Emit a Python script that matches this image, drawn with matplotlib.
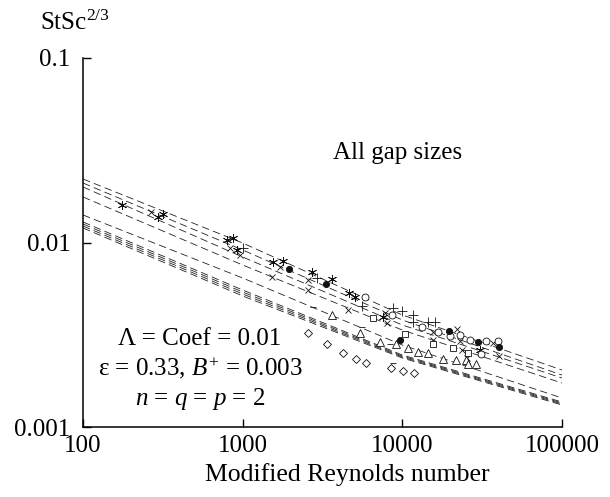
import matplotlib
matplotlib.use('Agg')
import matplotlib.pyplot as plt
from matplotlib.ticker import FixedLocator, FixedFormatter, NullLocator

plt.rcParams['font.family'] = ['Liberation Serif', 'DejaVu Serif']
plt.rcParams['mathtext.fontset'] = 'custom'
plt.rcParams['mathtext.rm'] = 'Liberation Serif'
plt.rcParams['mathtext.it'] = 'Liberation Serif:italic'

# correlation curves, sampled at Re = 100, 1000, 10000, 100000
curve_re = [100, 1000, 10000, 100000]
curves = [
    [0.02209, 0.009938, 0.004046, 0.002037],
    [0.02101, 0.009107, 0.003801, 0.001913],
    [0.01999, 0.008345, 0.003571, 0.001843],
    [0.01765, 0.007551, 0.003354, 0.001731],
    [0.01410, 0.006421, 0.002781, 0.001436],
    [0.01292, 0.005527, 0.002456, 0.001366],
    [0.01260, 0.005391, 0.002425, 0.001349],
    [0.01229, 0.005258, 0.002395, 0.001333],
    [0.01199, 0.005129, 0.002366, 0.001316],
]

# experimental points
star_re = [176, 295, 317, 798, 870, 922, 1549, 1788, 2718, 3627, 4634, 5051, 7568, 30646]
star_st = [0.0160, 0.01375, 0.01427, 0.0103, 0.01058, 0.00911, 0.00784, 0.00794,
           0.00692, 0.00634, 0.00532, 0.00507, 0.00395, 0.00261]

x_re = [267, 833, 962, 1526, 1713, 2566, 2566, 4567, 7789, 8016, 15560, 15560,
        21995, 22969, 23642, 25406, 36976, 40305]
x_st = [0.01463, 0.00934, 0.00856, 0.00650, 0.00737, 0.00626, 0.00553, 0.00431,
        0.00415, 0.00366, 0.00327, 0.00296, 0.00340, 0.00292, 0.00261, 0.00237,
        0.00285, 0.00243]

plus_re = [1005, 2921, 5588, 8741, 9952, 11664, 11664, 14478, 16015]
plus_st = [0.00934, 0.00642, 0.00453, 0.00442, 0.00425, 0.00405, 0.00371, 0.00371, 0.00371]

circ_re = [5836, 8617, 13276, 16722, 19886, 22969, 26532, 33419, 39724, 31093]
circ_st = [0.00507, 0.00405, 0.00348, 0.00327, 0.00311, 0.00315, 0.00296, 0.00292,
           0.00292, 0.00249]

dot_re = [1951, 3326, 9670, 19597, 29775, 40305]
dot_st = [0.00718, 0.00596, 0.00296, 0.00331, 0.00289, 0.00271]

sq_re = [6551, 10392, 15560, 20764, 25778]
sq_st = [0.00390, 0.00319, 0.00282, 0.00268, 0.00252]

tri_re = [3627, 5430, 7246, 9128, 10852, 12534, 14478, 17977, 21684, 25039, 25778, 28925]
tri_st = [0.00405, 0.00323, 0.00289, 0.00282, 0.00268, 0.00255, 0.00252, 0.00234,
          0.00231, 0.00231, 0.00220, 0.00220]

dia_re = [2566, 3375, 4250, 5125, 5921, 8492, 10096, 11832]
dia_st = [0.00323, 0.00282, 0.00252, 0.00234, 0.00222, 0.00209, 0.00201, 0.00196]

dash_re = [2757, 5588, 8369, 8741]
dash_st = [0.00447, 0.00348, 0.00282, 0.00222]

x_ticks = [100, 1000, 10000, 100000]
x_labels = ['100', '1000', '10000', '100000']
y_ticks = [0.001, 0.01, 0.1]
y_labels = ['0.001', '0.01', '0.1']

fig = plt.figure(figsize=(6.10, 4.97), dpi=100)
ax = fig.add_axes([83 / 610, 70 / 497, 479 / 610, 369 / 497])
ax.set_xscale('log')
ax.set_yscale('log')
ax.set_xlim(100, 100000)
ax.set_ylim(0.001, 0.1)

for c in curves:
    ax.plot(curve_re, c, color='#222222', linewidth=0.6, dashes=(9, 5))

mk = dict(linestyle='none', color='#111111', markeredgewidth=0.6)
ax.plot(star_re, star_st, marker=(6, 2, 0), markersize=6.5, **mk)
ax.plot(x_re, x_st, marker='x', markersize=5, **mk)
ax.plot(plus_re, plus_st, marker='+', markersize=6.5, **mk)
ax.plot(circ_re, circ_st, marker='o', markersize=5, markerfacecolor='white', **mk)
ax.plot(dot_re, dot_st, marker='o', markersize=4.5, **mk)
ax.plot(sq_re, sq_st, marker='s', markersize=5, markerfacecolor='white', **mk)
ax.plot(tri_re, tri_st, marker='^', markersize=5.5, markerfacecolor='white', **mk)
ax.plot(dia_re, dia_st, marker='D', markersize=4, markerfacecolor='white', **mk)
ax.plot(dash_re, dash_st, marker='_', markersize=4.5, **mk)

ax.spines['top'].set_visible(False)
ax.spines['right'].set_visible(False)
ax.spines['left'].set_linewidth(1.1)
ax.spines['bottom'].set_linewidth(1.1)

ax.xaxis.set_major_locator(FixedLocator(x_ticks))
ax.xaxis.set_major_formatter(FixedFormatter(x_labels))
ax.yaxis.set_major_locator(FixedLocator(y_ticks))
ax.yaxis.set_major_formatter(FixedFormatter(y_labels))
ax.xaxis.set_minor_locator(NullLocator())
ax.yaxis.set_minor_locator(NullLocator())
ax.tick_params(axis='both', which='major', direction='in', length=6, width=1.0,
               labelsize=18)
ax.tick_params(axis='x', pad=6)
ax.tick_params(axis='y', pad=9)

fig.text(40 / 610, 1 - 23 / 497, 'StSc$^{2/3}$', fontsize=18, va='center', ha='left')
fig.text(347 / 610, 1 - 475 / 497, 'Modified Reynolds number', fontsize=18.5,
         va='center', ha='center')
fig.text(333 / 610, 1 - 153 / 497, 'All gap sizes', fontsize=18, va='center', ha='left')
fig.text(200 / 610, 1 - 339 / 497, 'Λ = Coef = 0.01', fontsize=18, va='center', ha='center')
fig.text(200 / 610, 1 - 368 / 497, 'ε = 0.33, $B^{+}$ = 0.003', fontsize=18,
         va='center', ha='center')
fig.text(200 / 610, 1 - 399 / 497, '$n$ = $q$ = $p$ = 2', fontsize=18,
         va='center', ha='center')

fig.savefig('out.png', dpi=100)
